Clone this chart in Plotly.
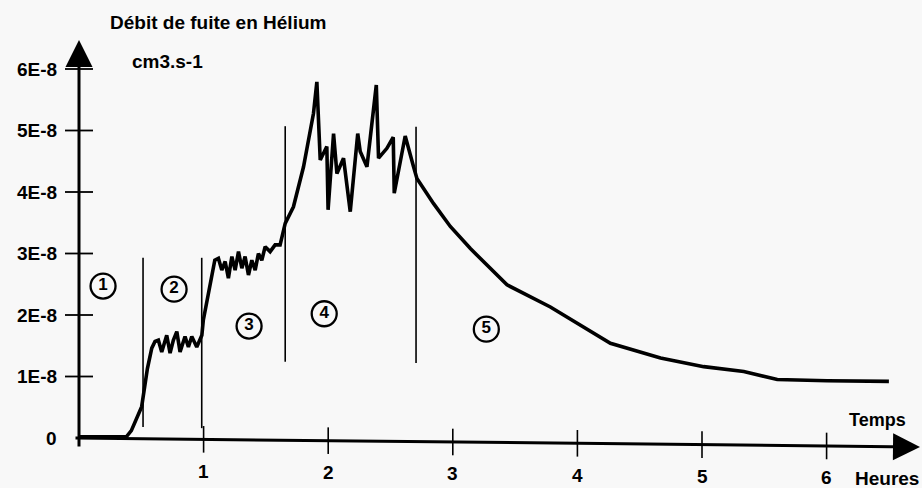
import plotly.graph_objects as go

# ---------------- data ----------------
time_h = [0.0, 0.38, 0.42, 0.503, 0.549, 0.584, 0.61,
          0.637, 0.664, 0.704, 0.731, 0.757, 0.785, 0.811, 0.851, 0.878, 0.905, 0.945, 0.986,
          0.998, 1.09,
          1.119, 1.146, 1.173, 1.199, 1.227, 1.253, 1.280, 1.307, 1.333, 1.360, 1.387, 1.414,
          1.440, 1.467, 1.494, 1.534, 1.574, 1.614,
          1.655, 1.721, 1.802, 1.882, 1.909, 1.936, 1.989, 1.999, 2.043, 2.070, 2.123, 2.177,
          2.237, 2.257, 2.311, 2.386, 2.404, 2.471, 2.522, 2.530, 2.618, 2.685,
          2.712, 2.846, 2.980, 3.141, 3.435, 3.783, 4.265, 4.667, 5.014, 5.335, 5.604, 6.005, 6.500]
leak_e8 = [0.02, 0.02, 0.12, 0.51, 1.13, 1.46, 1.57,
           1.59, 1.40, 1.67, 1.38, 1.59, 1.73, 1.40, 1.65, 1.48, 1.65, 1.48, 1.67,
           1.92, 2.89,
           2.92, 2.73, 2.87, 2.60, 2.95, 2.73, 3.03, 2.76, 2.95, 2.65, 2.89, 2.73,
           3.00, 2.89, 3.11, 3.03, 3.14, 3.14,
           3.49, 3.76, 4.41, 5.28, 5.79, 4.52, 4.74, 3.71, 4.95, 4.30, 4.55, 3.68,
           4.95, 4.66, 4.41, 5.74, 4.55, 4.71, 4.89, 3.98, 4.91, 4.41,
           4.22, 3.81, 3.44, 3.08, 2.49, 2.13, 1.54, 1.30, 1.16, 1.08, 0.95, 0.93, 0.92]

phase_bounds_h = [0.514, 0.985, 1.655, 2.705]
phase_top_e8 = [2.93, 2.93, 5.07, 5.06]
phase_bottom_e8 = [0.18, 0.16, 1.24, 1.22]

phase_labels = ["1", "2", "3", "4", "5"]
phase_label_x = [0.193, 0.763, 1.365, 1.968, 3.269]
phase_label_y = [2.47, 2.42, 1.82, 2.02, 1.77]

y_tick_vals = [0, 1, 2, 3, 4, 5, 6]
y_tick_text = ["0", "1E-8", "2E-8", "3E-8", "4E-8", "5E-8", "6E-8"]
x_tick_vals = [1, 2, 3, 4, 5, 6]
x_tick_text = ["1", "2", "3", "4", "5", "6"]

# ---------------- style / layout ----------------
W, H = 922, 488
ORIGIN_PX = (79, 438)
PX_PER_H = 124.6
PX_PER_E8 = 61.5
AXIS_TILT = 0.0216       # slight downward slope of the drawn time axis (E-8 per hour)
BG = "#f8f8f8"
FONT = "Liberation Sans"

x_range = [-ORIGIN_PX[0] / PX_PER_H, (W - ORIGIN_PX[0]) / PX_PER_H]
y_range = [-(H - ORIGIN_PX[1]) / PX_PER_E8, ORIGIN_PX[1] / PX_PER_E8]

fig = go.Figure()

# phase separators
sx, sy = [], []
for b, top, bot in zip(phase_bounds_h, phase_top_e8, phase_bottom_e8):
    sx += [b, b, None]
    sy += [top, bot, None]
fig.add_trace(go.Scatter(x=sx, y=sy, mode="lines",
                         line=dict(color="black", width=1.6), hoverinfo="skip"))

# main curve
fig.add_trace(go.Scatter(x=time_h, y=leak_e8, mode="lines",
                         line=dict(color="black", width=3.6), hoverinfo="skip"))

# y tick marks (crossing the axis)
fig.add_trace(go.Scatter(x=[0] * (len(y_tick_vals) - 1), y=y_tick_vals[1:], mode="markers",
                         marker=dict(symbol="line-ew", size=20, color="black",
                                     line=dict(color="black", width=1.8)),
                         hoverinfo="skip"))
# x tick marks
fig.add_trace(go.Scatter(x=x_tick_vals, y=[-AXIS_TILT * v for v in x_tick_vals], mode="markers",
                         marker=dict(symbol="line-ns", size=19, color="black",
                                     line=dict(color="black", width=1.6)),
                         hoverinfo="skip"))

# circled phase numbers
fig.add_trace(go.Scatter(x=phase_label_x, y=phase_label_y, mode="markers+text",
                         text=phase_labels, textposition="middle center",
                         textfont=dict(family=FONT, size=17, color="black", weight="bold"),
                         marker=dict(symbol="circle-open", size=25, color="black",
                                     line=dict(color="black", width=2.3)),
                         hoverinfo="skip"))

ann = []
# axis lines with arrowheads
ann.append(dict(x=0, y=(ORIGIN_PX[1] - 40) / PX_PER_E8, ax=0, ay=-10 / PX_PER_E8,
                xref="x", yref="y", axref="x", ayref="y", text="", showarrow=True,
                arrowhead=2, arrowsize=1.8, arrowwidth=3, arrowcolor="black", standoff=0))
x_end = (920 - ORIGIN_PX[0]) / PX_PER_H
ann.append(dict(x=x_end, y=-AXIS_TILT * x_end, ax=-5 / PX_PER_H, ay=0,
                xref="x", yref="y", axref="x", ayref="y", text="", showarrow=True,
                arrowhead=2, arrowsize=1.8, arrowwidth=3, arrowcolor="black", standoff=0))

# y tick labels
for v, t in zip(y_tick_vals, y_tick_text):
    ann.append(dict(x=-20 / PX_PER_H, y=v, xref="x", yref="y", text=f"<b>{t}</b>",
                    showarrow=False, xanchor="right", yanchor="middle",
                    font=dict(family=FONT, size=19, color="black")))
# x tick labels
for v, t in zip(x_tick_vals, x_tick_text):
    ann.append(dict(x=v, y=-AXIS_TILT * v - 32 / PX_PER_E8, xref="x", yref="y",
                    text=f"<b>{t}</b>", showarrow=False, xanchor="center", yanchor="middle",
                    font=dict(family=FONT, size=19, color="black")))

# titles
ann.append(dict(x=108 / W, y=1 - 23 / H, xref="paper", yref="paper",
                text="<b>Débit de fuite en Hélium</b>", showarrow=False,
                xanchor="left", yanchor="middle",
                font=dict(family=FONT, size=19, color="black")))
ann.append(dict(x=130 / W, y=1 - 61 / H, xref="paper", yref="paper",
                text="<b>cm3.s-1</b>", showarrow=False, xanchor="left", yanchor="middle",
                font=dict(family=FONT, size=19, color="black")))
ann.append(dict(x=908 / W, y=1 - 420 / H, xref="paper", yref="paper",
                text="<b>Temps</b>", showarrow=False, xanchor="right", yanchor="middle",
                font=dict(family=FONT, size=18, color="black")))
ann.append(dict(x=921 / W, y=1 - 478 / H, xref="paper", yref="paper",
                text="<b>Heures</b>", showarrow=False, xanchor="right", yanchor="middle",
                font=dict(family=FONT, size=19, color="black")))

fig.update_layout(
    width=W, height=H,
    margin=dict(l=0, r=0, t=0, b=0),
    paper_bgcolor=BG, plot_bgcolor=BG,
    showlegend=False,
    annotations=ann,
    xaxis=dict(range=x_range, visible=False, fixedrange=True),
    yaxis=dict(range=y_range, visible=False, fixedrange=True),
)

fig.write_html("out.html", config={"displayModeBar": False},
               post_script="document.body.style.margin='0px';"
                           "document.body.style.overflow='hidden';"
                           "document.body.style.background='" + BG + "';")
